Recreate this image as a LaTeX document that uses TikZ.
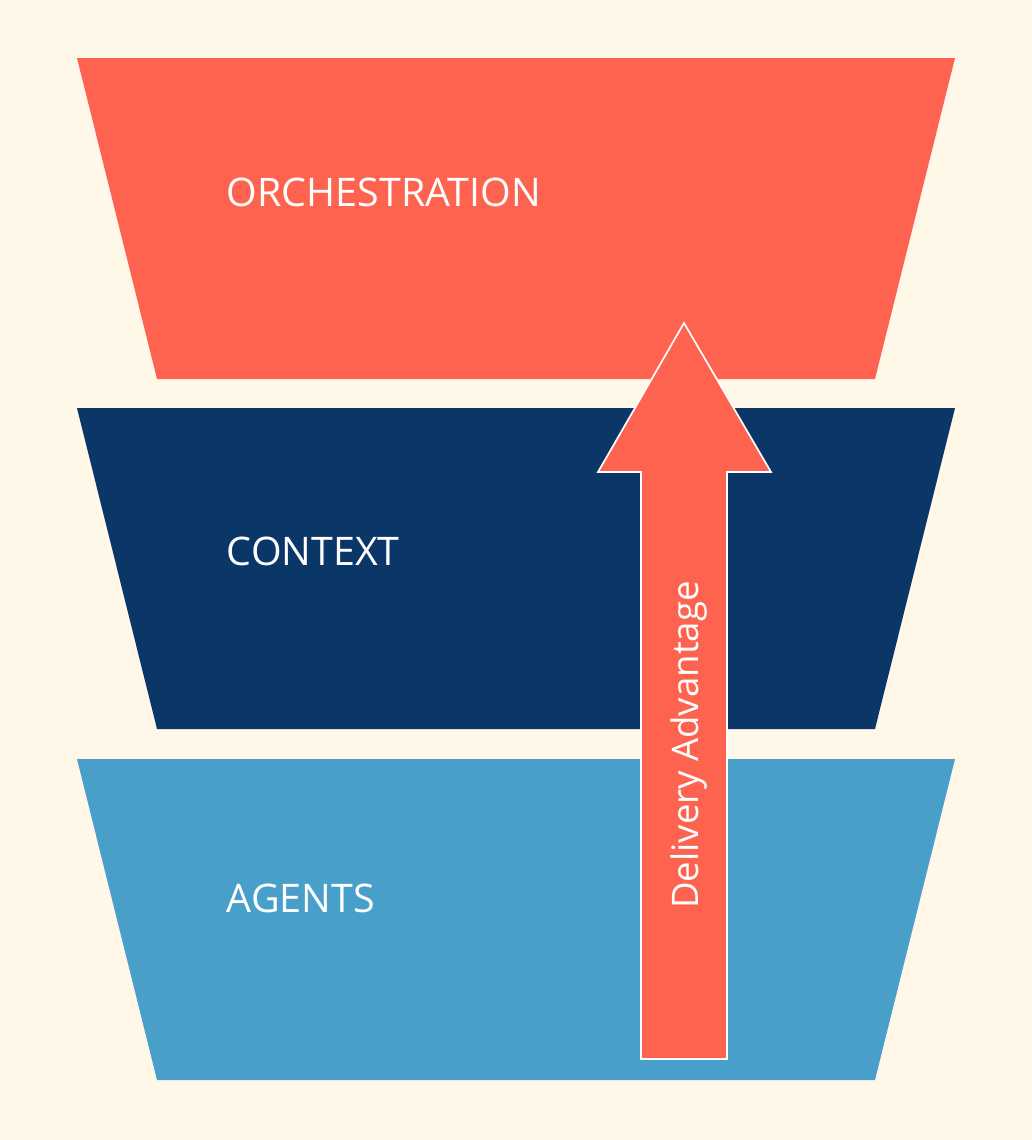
\documentclass[tikz,border=0pt]{standalone}
\usepackage{fontspec}
\setmainfont{Open Sans}
\definecolor{bgcream}{HTML}{FFF8E8}
\definecolor{tomato}{HTML}{FE6350}
\definecolor{navy}{HTML}{0B3768}
\definecolor{skyblue}{HTML}{48A0CA}
\begin{document}
\begin{tikzpicture}[x=0.025cm,y=-0.025cm]
  \tikzstyle{layer}=[draw=none]
  \tikzstyle{title}=[text=white, anchor=west, font=\fontsize{28}{33}\selectfont]
  \fill[bgcream] (0,0) rectangle (1032,1140);
  \useasboundingbox (0,0) rectangle (1032,1140);
  \fill[layer, tomato] (77,58) -- (955,58) -- (875,379) -- (157,379) -- cycle;
  \fill[layer, navy] (77,408) -- (955,408) -- (875,729) -- (157,729) -- cycle;
  \fill[layer, skyblue] (77,759) -- (955,759) -- (875,1080) -- (157,1080) -- cycle;
  \node[title] (orch) at (222,192) {ORCHESTRATION};
  \node[title] (ctx) at (222,551) {CONTEXT};
  \node[title] (agents) at (222,898) {AGENTS};
  % arrow
  \filldraw[fill=tomato, draw=white, line width=1.2pt, line join=miter]
    (641,1059) -- (641,472) -- (598,472) -- (684,323) -- (771,472) -- (727,472) -- (727,1059) -- cycle;
  \node[text=white, rotate=90, font=\fontsize{26}{31}\selectfont] (adv) at (689,745) {Delivery Advantage};
\end{tikzpicture}
\end{document}
